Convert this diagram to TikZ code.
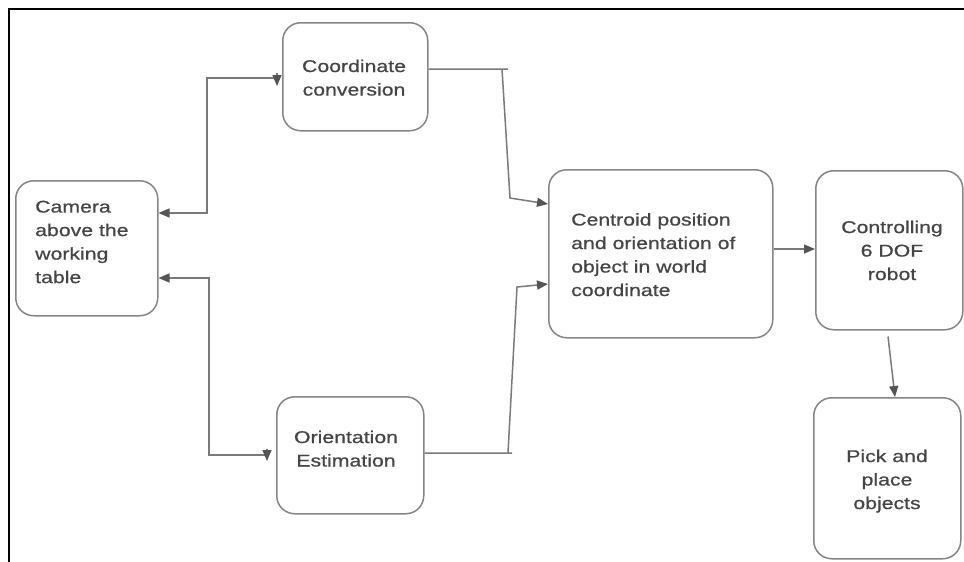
\documentclass[tikz,border=0pt]{standalone}
\usepackage{fontspec}
\setmainfont[FakeStretch=1.25,FakeBold=0.7]{Liberation Sans}
\usetikzlibrary{arrows.meta}
\definecolor{boxgray}{HTML}{858585}
\definecolor{linegray}{HTML}{7A7A7A}
\definecolor{tipgray}{HTML}{555555}
\definecolor{txtgray}{HTML}{454545}
\tikzset{
  box/.style={draw=boxgray, line width=1.5pt, rounded corners=18pt, anchor=north west, inner sep=0pt},
  lbl/.style={inner sep=0pt, text=txtgray, font=\fontsize{17}{23.5}\selectfont},
  conn/.style={draw=linegray, line width=1.5pt},
  tip/.tip={Triangle[length=11pt,width=9pt,color=tipgray]}
}
\begin{document}
\begin{tikzpicture}[x=1pt,y=-1pt]
\useasboundingbox (0,0) rectangle (964,562);
\fill[white] (0,0) rectangle (964,562);
\draw[black, line width=2pt] (9,562) -- (9,9) -- (964,9);

% boxes
\node[box, minimum width=142pt, minimum height=135pt] (cam) at (15,180) {};
\node[box, minimum width=145pt, minimum height=108pt] (coord) at (282,22) {};
\node[box, minimum width=147pt, minimum height=117pt] (orient) at (276,396) {};
\node[box, minimum width=224pt, minimum height=168pt] (cent) at (548,169) {};
\node[box, minimum width=147pt, minimum height=159pt] (ctrl) at (815,170) {};
\node[box, minimum width=147pt, minimum height=161pt] (pick) at (813,397) {};

% labels
\node[lbl, anchor=north west, align=left] (camtxt) at (35,200.5) {Camera\\above the\\working\\table};
\node[lbl, anchor=north, align=center] (coordtxt) at (354,59.5) {Coordinate\\conversion};
\node[lbl, anchor=north, align=center] (orienttxt) at (346,430.5) {Orientation\\Estimation};
\node[lbl, anchor=north west, align=left] (centtxt) at (571,213) {Centroid position\\and orientation of\\object in world\\coordinate};
\node[lbl, anchor=north, align=center] (ctrltxt) at (892,220.5) {Controlling\\6 DOF\\robot};
\node[lbl, anchor=north, align=center] (picktxt) at (887,449.5) {Pick and\\place\\objects};

% connectors
\draw[conn, {tip}-{tip}] (cam.east |- 0,213) -- (207,213) -- (207,78) -- (277,78) -- (277,73) -- (277,86);
\draw[conn, {tip}-{tip}] (cam.east |- 0,278) -- (209,278) -- (209,455) -- (267,455) -- (267,449) -- (267,461);
\draw[conn, -{tip}] (coord.east |- 0,69) -- (508,69) (502,69) -- (510,198) -- (cent.west |- 0,204);
\draw[conn, -{tip}] (orient.east |- 0,453) -- (512,453) (508,453) -- (517,287) -- (cent.west |- 0,284);
\draw[conn, -{tip}] (cent.east |- 0,249) -- (ctrl.west |- 0,249);
\draw[conn, -{tip}] ([yshift=-6pt]ctrl.south -| 888,0) -- (pick.north -| 895,0);
\end{tikzpicture}
\end{document}
